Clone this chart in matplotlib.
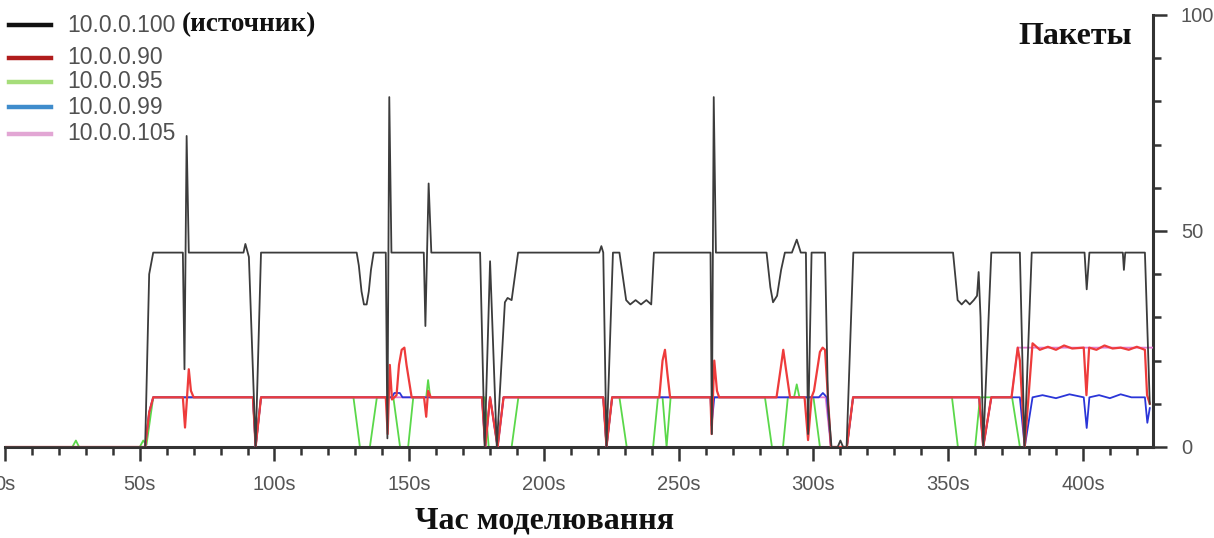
import matplotlib
matplotlib.use("Agg")
import matplotlib.pyplot as plt
from matplotlib.lines import Line2D
from matplotlib.ticker import MultipleLocator, FuncFormatter

# source 10.0.0.100
t_src = [0, 52, 53.5, 55, 66.0, 66.6, 67.4, 68.2, 88.5, 89.2, 90.5, 93, 95,
         130.5, 131.3, 132.3, 133.2, 134.2, 135.0, 135.8, 136.8,
         141.3, 141.9, 142.6, 143.4, 155.4, 156.0, 157.2, 158.2,
         176.3, 178, 180, 182.5, 185.5, 186.5, 188, 190.4,
         220.5, 221.3, 222, 223.2, 225.6, 228, 230.5, 232, 234, 236, 238, 239.8, 240.8,
         261.8, 262.3, 263.0, 263.8, 282.6, 284, 285, 286.5, 288, 289.4,
         292, 293.8, 295.3, 297.2, 298, 299.3, 304.3, 305.4, 306.7, 309, 310, 311, 312.3, 314.8,
         351.8, 353.5, 355, 356.5, 358, 359.5, 360.7, 361.3, 362.0, 363, 366,
         376.6, 378.3, 381, 400.6, 401.4, 402.4, 414.8, 415.2, 415.7, 423, 424.8]
v_src = [0, 0, 40, 45, 45, 18, 72, 45, 45, 47, 44, 0, 45,
         45, 42, 36, 33, 33, 36, 41, 45,
         45, 2, 81, 45, 45, 28, 61, 45,
         45, 0, 43, 0, 33.5, 34.5, 34, 45,
         45, 46.5, 45, 0, 45, 45, 34, 33, 34, 33, 34, 33, 45,
         45, 3, 81, 45, 45, 37, 33.5, 35, 41, 45,
         45, 48, 45, 45, 3, 45, 45, 10, 0, 0, 1.5, 0, 0, 45,
         45, 34, 33, 34, 33, 34, 35, 40.5, 30, 0, 45,
         45, 0, 45, 45, 36.5, 45, 45, 41, 45, 45, 10]

# 10.0.0.90
t_90 = [0, 52, 53.5, 55, 66.0, 66.8, 67.5, 68.2, 69, 70, 92, 93, 95,
        141.3, 142.0, 142.8, 143.6, 145.3, 146.2, 147.2, 148.2, 149.0, 150.9,
        155.5, 156.3, 157.0, 158.0, 177, 178.2, 180, 182.8, 185,
        222, 223.2, 225.3, 242.8, 244.0, 244.9, 245.8, 246.8,
        261.8, 262.2, 263.2, 264.2, 265, 286.3, 287.8, 288.8, 289.8, 291.3,
        296.7, 298, 299.3, 300.2, 302.4, 303.4, 304.3, 306.5, 312.4, 314.7,
        361.5, 363, 366, 373.5, 375.8, 376.6, 378.4, 381.3, 384, 387, 390, 393, 396,
        400.3, 401.3, 402.3, 405, 408, 411, 414, 417, 420, 423, 423.8, 424.8]
v_90 = [0, 0, 8, 11.5, 11.5, 4.5, 11, 18, 13, 11.5, 11.5, 0, 11.5,
        11.5, 3, 19, 11, 12, 19, 22.5, 23, 19, 11.5,
        11.5, 7, 13, 11.5, 11.5, 0, 11.5, 0, 11.5,
        11.5, 0, 11.5, 11.5, 20, 22.5, 17, 11.5,
        11.5, 3, 20, 13, 11.5, 11.5, 18, 22.5, 18, 11.5,
        11.5, 1.6, 11.5, 13, 22, 23, 22.5, 0, 0, 11.5,
        11.5, 0, 11.5, 11.5, 23, 20, 0, 24, 22.5, 23.2, 22.5, 23.5, 22.8,
        23, 12, 23, 22.5, 23.5, 22.8, 23, 22.5, 23.2, 22.5, 12, 10]

# 10.0.0.95
t_95 = [0, 25, 26.3, 27.5, 50, 51.3, 52.5, 55, 92, 93, 95, 129.3, 131.7, 135.4, 138,
        144.1, 146.6, 149.6, 151.5, 156.3, 157, 157.8, 178, 179.5, 188, 190.5,
        222, 223.2, 225.3, 228, 230.7, 240.5, 242.3, 244, 245.5, 247,
        282, 284.6, 288.7, 290.5, 292.8, 293.8, 294.8, 300, 302.4, 312.4, 314.7,
        351.4, 353.6, 360, 361.8, 373.7, 376.6, 426]
v_95 = [0, 0, 1.5, 0, 0, 1.5, 0.5, 11.5, 11.5, 0, 11.5, 11.5, 0, 0, 11.5,
        11.5, 0, 0, 11.5, 11.5, 15.5, 11.5, 11.5, 0, 0, 11.5,
        11.5, 0, 11.5, 11.5, 0, 0, 11.5, 11.5, 0, 11.5,
        11.5, 0, 0, 11.5, 11.5, 14.5, 11.5, 11.5, 0, 0, 11.5,
        11.5, 0, 0, 11.5, 11.5, 0, 0]

# 10.0.0.99
t_99 = [0, 52, 53.5, 55, 92, 93, 95, 143.5, 144.5, 146.5, 147.5, 177, 178.2, 180, 182.8, 185,
        222, 223.2, 225.3, 261.8, 262.2, 263.2, 302, 303.5, 305, 306.5, 312.4, 314.7,
        361.5, 363, 366, 376.6, 378.4, 381.3, 385, 390, 395, 400.3, 401.4, 402.4,
        406, 410, 414, 418, 423, 423.9, 424.8]
v_99 = [0, 0, 8, 11.5, 11.5, 0, 11.5, 11.5, 12.5, 12.5, 11.5, 11.5, 0, 11.5, 0, 11.5,
        11.5, 0, 11.5, 11.5, 5, 11.5, 11.5, 12.5, 11.5, 0, 0, 11.5,
        11.5, 0, 11.5, 11.5, 0, 11.5, 12, 11.3, 12.2, 11.5, 4.4, 11.5,
        12, 11.3, 12.2, 11.5, 11.5, 5.6, 9]

# 10.0.0.105
t_105 = [0, 52, 53.5, 55, 92, 93, 95, 177, 178.2, 180, 182.8, 185, 222, 223.2, 225.3,
         304.5, 306.5, 312.4, 314.7, 361.5, 363, 366, 373.5, 375.8, 426]
v_105 = [0, 0, 8, 11.5, 11.5, 0, 11.5, 11.5, 0, 11.5, 0, 11.5, 11.5, 0, 11.5,
         11.5, 0, 0, 11.5, 11.5, 0, 11.5, 11.5, 23, 23]

W, H = 1214, 538
fig = plt.figure(figsize=(W / 100, H / 100), dpi=100)
ax = fig.add_axes([5 / W, (H - 447) / H, (1153 - 5) / W, (447 - 15) / H])

lw = 1.3
ax.plot(t_95, v_95, color='#5ad84a', lw=lw, zorder=2)
ax.plot(t_105, v_105, color='#e07ad0', lw=lw, zorder=3)
ax.plot(t_99, v_99, color='#2a35d8', lw=lw, zorder=4)
ax.plot(t_90, v_90, color='#ee3b3b', lw=1.6, zorder=5)
ax.plot(t_src, v_src, color='#3c3c3c', lw=lw, zorder=6)

ax.set_xlim(0, 426)
ax.set_ylim(0, 100)
for s in ['top', 'left']:
    ax.spines[s].set_visible(False)
for s in ['bottom', 'right']:
    ax.spines[s].set_linewidth(2.2)
    ax.spines[s].set_color('#333333')

ax.yaxis.tick_right()
ax.xaxis.set_major_locator(MultipleLocator(50))
ax.xaxis.set_minor_locator(MultipleLocator(10))
ax.yaxis.set_major_locator(MultipleLocator(50))
ax.yaxis.set_minor_locator(MultipleLocator(10))
ax.xaxis.set_major_formatter(FuncFormatter(lambda x, p: '%ds' % x))
ax.tick_params(which='major', length=10, width=1.8, color='#333333', direction='out',
               labelsize=14.5, labelcolor='#555555', pad=10)
ax.tick_params(which='minor', length=6, width=1.8, color='#333333', direction='out')
for lab in ax.get_xticklabels() + ax.get_yticklabels():
    lab.set_family('Liberation Sans')

fig.text(1075 / W, 1 - 36 / H, 'Пакеты', family='Liberation Serif', weight='bold',
         fontsize=23, ha='center', va='center', color='#111111')
fig.text(545 / W, 1 - 521 / H, 'Час моделювання', family='Liberation Serif', weight='bold',
         fontsize=23, ha='center', va='center', color='#111111')

# legend drawn by hand
leg_names = ['10.0.0.100', '10.0.0.90', '10.0.0.95', '10.0.0.99', '10.0.0.105']
leg_colors = ['#111111', '#b01c1c', '#a6dd7a', '#3f8ccc', '#e2a6d4']
leg_y = [25, 58, 82, 107, 134]
for name, c, y in zip(leg_names, leg_colors, leg_y):
    fig.add_artist(Line2D([9 / W, 51 / W], [1 - y / H, 1 - y / H], color=c, lw=3.2,
                          transform=fig.transFigure))
    fig.text(67 / W, 1 - y / H, name, family='Liberation Sans', fontsize=16.5,
             ha='left', va='center', color='#505050')
fig.text(182 / W, 1 - 25 / H, '(источник)', family='Liberation Serif', weight='bold',
         fontsize=19.5, ha='left', va='center', color='#111111')

fig.savefig('out.png', dpi=100)
